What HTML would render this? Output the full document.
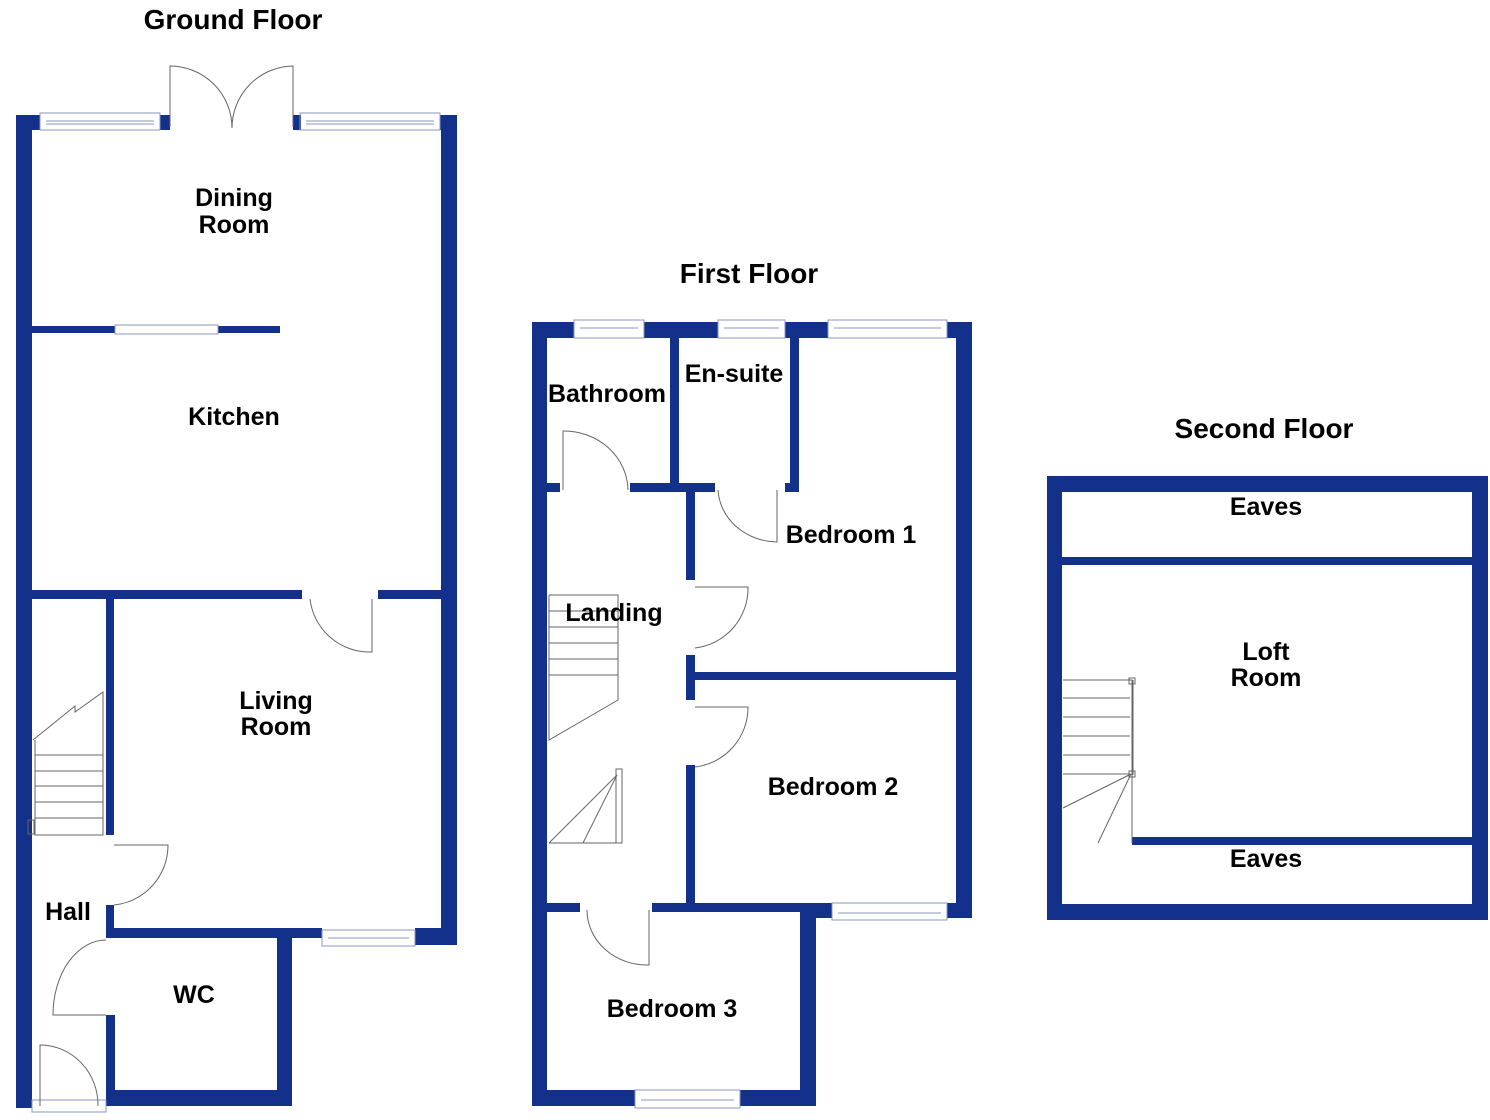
<!DOCTYPE html>
<html><head><meta charset="utf-8"><style>
html,body{margin:0;padding:0;background:#fff;width:1490px;height:1120px;overflow:hidden}
svg{display:block}
text{font-family:"Liberation Sans",Arial,sans-serif;font-weight:bold;fill:#000;text-anchor:middle}
</style></head><body>
<svg width="1490" height="1120" viewBox="0 0 1490 1120" xmlns="http://www.w3.org/2000/svg">
<g fill="#13308a">
<rect x="16" y="115" width="16" height="993"/>
<rect x="16" y="115" width="24" height="15"/>
<rect x="160" y="115" width="10" height="15"/>
<rect x="293" y="115" width="8" height="15"/>
<rect x="440" y="115" width="17" height="15"/>
<rect x="441" y="115" width="16" height="830"/>
<rect x="32" y="326" width="83" height="7"/>
<rect x="218" y="326" width="62" height="7"/>
<rect x="32" y="590" width="270" height="9"/>
<rect x="378" y="590" width="63" height="9"/>
<rect x="106" y="599" width="8" height="236"/>
<rect x="106" y="905" width="8" height="30"/>
<rect x="106" y="928" width="216" height="10"/>
<rect x="415" y="928" width="42" height="17"/>
<rect x="277" y="930" width="15" height="176"/>
<rect x="106" y="1090" width="186" height="16"/>
<rect x="106" y="1015" width="9" height="91"/>
<rect x="532" y="322" width="15" height="784"/>
<rect x="532" y="322" width="42" height="16"/>
<rect x="644" y="322" width="74" height="16"/>
<rect x="785" y="322" width="43" height="16"/>
<rect x="947" y="322" width="25" height="16"/>
<rect x="956" y="322" width="16" height="596"/>
<rect x="670" y="338" width="9" height="152"/>
<rect x="790" y="338" width="9" height="152"/>
<rect x="547" y="483" width="13" height="9"/>
<rect x="630" y="483" width="85" height="9"/>
<rect x="785" y="483" width="14" height="9"/>
<rect x="686" y="483" width="9" height="97"/>
<rect x="686" y="655" width="9" height="45"/>
<rect x="686" y="765" width="9" height="140"/>
<rect x="686" y="672" width="286" height="8"/>
<rect x="532" y="903" width="48" height="9"/>
<rect x="652" y="903" width="180" height="9"/>
<rect x="800" y="903" width="32" height="15"/>
<rect x="947" y="903" width="25" height="15"/>
<rect x="800" y="903" width="16" height="203"/>
<rect x="532" y="1090" width="103" height="16"/>
<rect x="740" y="1090" width="76" height="16"/>
<path fill-rule="evenodd" d="M1047 476H1488V920H1047Z M1062 492H1472V904H1062Z"/>
<rect x="1062" y="557" width="410" height="8"/>
<rect x="1132" y="837" width="340" height="8"/>
</g>
<g fill="none" stroke="#8a96c0" stroke-width="1">
<rect x="40" y="113" width="120" height="17"/><line x1="46" y1="121" x2="154" y2="121"/><line x1="46" y1="124" x2="154" y2="124"/>
<rect x="300" y="113" width="140" height="17"/><line x1="306" y1="121" x2="434" y2="121"/><line x1="306" y1="124" x2="434" y2="124"/>
<rect x="115" y="325" width="103" height="9"/>
<rect x="322" y="930" width="93" height="16"/><line x1="328" y1="938" x2="409" y2="938"/>
<rect x="574" y="320" width="70" height="18"/><line x1="580" y1="328" x2="638" y2="328"/>
<rect x="718" y="320" width="67" height="18"/><line x1="724" y1="328" x2="779" y2="328"/>
<rect x="828" y="320" width="119" height="18"/><line x1="834" y1="328" x2="941" y2="328"/>
<rect x="832" y="903" width="115" height="17"/><line x1="838" y1="913" x2="941" y2="913"/>
<rect x="635" y="1090" width="105" height="18"/><line x1="641" y1="1100" x2="734" y2="1100"/>
<rect x="32" y="1100" width="74" height="12"/>
</g>
<g fill="none" stroke="#666" stroke-width="1">
<path d="M170 127V66A62 62 0 0 1 232 128"/>
<path d="M293 127V66A62 62 0 0 0 232 128"/>
<path d="M310 599A60 60 0 0 0 372 652V599"/>
<path d="M114 845H168A60 60 0 0 1 114 905"/>
<path d="M106 1015H53A53 75 0 0 1 106 940"/>
<path d="M40 1106V1045A58 60 0 0 1 98 1106"/>
<path d="M563 490V431A64 60 0 0 1 628 490"/>
<path d="M718 490A60 55 0 0 0 777 542V490"/>
<path d="M695 587H748A60 60 0 0 1 695 648"/>
<path d="M695 707H748A60 60 0 0 1 695 767"/>
<path d="M587 910A60 55 0 0 0 649 965V910"/>
<path d="M35 740V835H103V692L75 712V706L33 740"/>
<line x1="35" y1="755" x2="103" y2="755"/><line x1="35" y1="771" x2="103" y2="771"/><line x1="35" y1="786" x2="103" y2="786"/><line x1="35" y1="802" x2="103" y2="802"/><line x1="35" y1="818" x2="103" y2="818"/>
<rect x="28" y="820" width="6" height="14"/>
<path d="M549 595H618V700L549 740V595"/>
<line x1="549" y1="611" x2="618" y2="611"/><line x1="549" y1="627" x2="618" y2="627"/><line x1="549" y1="643" x2="618" y2="643"/><line x1="549" y1="659" x2="618" y2="659"/><line x1="549" y1="675" x2="618" y2="675"/>
<path d="M549 843H622V769H616V843"/>
<line x1="549" y1="843" x2="617" y2="775"/><line x1="583" y1="843" x2="617" y2="775"/>
<path d="M1063 680H1132V843"/><line x1="1133" y1="680" x2="1133" y2="775"/>
<line x1="1063" y1="698" x2="1130" y2="698"/><line x1="1063" y1="717" x2="1130" y2="717"/><line x1="1063" y1="736" x2="1130" y2="736"/><line x1="1063" y1="755" x2="1130" y2="755"/><line x1="1063" y1="774" x2="1130" y2="774"/>
<line x1="1131" y1="774" x2="1063" y2="808"/><line x1="1131" y1="774" x2="1098" y2="843"/>
<rect x="1129" y="678" width="6" height="6"/><rect x="1129" y="771" width="6" height="6"/>
</g>
<text x="233" y="29" font-size="28">Ground Floor</text>
<text x="749" y="283" font-size="28">First Floor</text>
<text x="1264" y="438" font-size="28">Second Floor</text>
<g font-size="25">
<text x="234" y="206">Dining</text><text x="234" y="233">Room</text>
<text x="234" y="425">Kitchen</text>
<text x="276" y="709">Living</text><text x="276" y="735">Room</text>
<text x="68" y="920">Hall</text>
<text x="194" y="1003">WC</text>
<text x="607" y="402">Bathroom</text>
<text x="734" y="382">En-suite</text>
<text x="851" y="543">Bedroom 1</text>
<text x="614" y="621">Landing</text>
<text x="833" y="795">Bedroom 2</text>
<text x="672" y="1017">Bedroom 3</text>
<text x="1266" y="515">Eaves</text>
<text x="1266" y="660">Loft</text><text x="1266" y="686">Room</text>
<text x="1266" y="867">Eaves</text>
</g>
</svg>
</body></html>
